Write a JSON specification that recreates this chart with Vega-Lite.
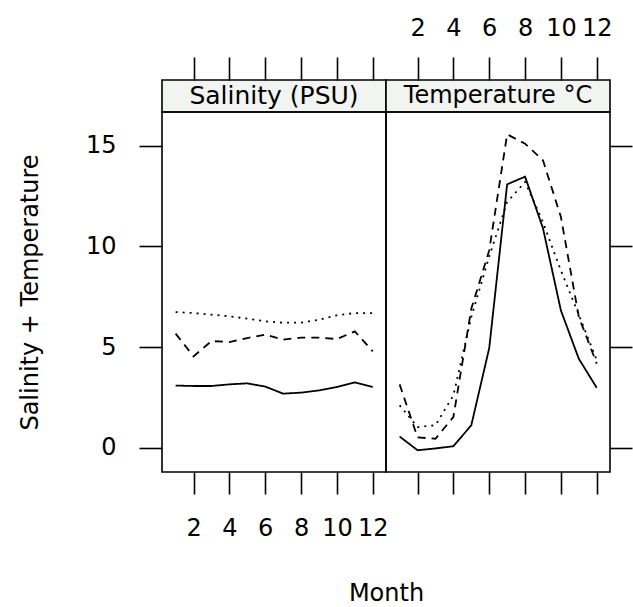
{
  "$schema": "https://vega.github.io/schema/vega-lite/v6.json",
  "background": "white",
  "padding": {"left": 17, "top": 15, "right": 0, "bottom": 0},
  "datasets": {
    "series": [
      {"panel": "Salinity (PSU)", "site": "A", "month": 1, "value": 3.09},
      {"panel": "Salinity (PSU)", "site": "A", "month": 2, "value": 3.07},
      {"panel": "Salinity (PSU)", "site": "A", "month": 3, "value": 3.07},
      {"panel": "Salinity (PSU)", "site": "A", "month": 4, "value": 3.15},
      {"panel": "Salinity (PSU)", "site": "A", "month": 5, "value": 3.2},
      {"panel": "Salinity (PSU)", "site": "A", "month": 6, "value": 3.04},
      {"panel": "Salinity (PSU)", "site": "A", "month": 7, "value": 2.69},
      {"panel": "Salinity (PSU)", "site": "A", "month": 8, "value": 2.74},
      {"panel": "Salinity (PSU)", "site": "A", "month": 9, "value": 2.85},
      {"panel": "Salinity (PSU)", "site": "A", "month": 10, "value": 3.02},
      {"panel": "Salinity (PSU)", "site": "A", "month": 11, "value": 3.25},
      {"panel": "Salinity (PSU)", "site": "A", "month": 12, "value": 3.02},
      {"panel": "Salinity (PSU)", "site": "B", "month": 1, "value": 5.67},
      {"panel": "Salinity (PSU)", "site": "B", "month": 2, "value": 4.54},
      {"panel": "Salinity (PSU)", "site": "B", "month": 3, "value": 5.3},
      {"panel": "Salinity (PSU)", "site": "B", "month": 4, "value": 5.25},
      {"panel": "Salinity (PSU)", "site": "B", "month": 5, "value": 5.45},
      {"panel": "Salinity (PSU)", "site": "B", "month": 6, "value": 5.62},
      {"panel": "Salinity (PSU)", "site": "B", "month": 7, "value": 5.37},
      {"panel": "Salinity (PSU)", "site": "B", "month": 8, "value": 5.47},
      {"panel": "Salinity (PSU)", "site": "B", "month": 9, "value": 5.47},
      {"panel": "Salinity (PSU)", "site": "B", "month": 10, "value": 5.4},
      {"panel": "Salinity (PSU)", "site": "B", "month": 11, "value": 5.78},
      {"panel": "Salinity (PSU)", "site": "B", "month": 12, "value": 4.79},
      {"panel": "Salinity (PSU)", "site": "C", "month": 1, "value": 6.74},
      {"panel": "Salinity (PSU)", "site": "C", "month": 2, "value": 6.69},
      {"panel": "Salinity (PSU)", "site": "C", "month": 3, "value": 6.61},
      {"panel": "Salinity (PSU)", "site": "C", "month": 4, "value": 6.53},
      {"panel": "Salinity (PSU)", "site": "C", "month": 5, "value": 6.41},
      {"panel": "Salinity (PSU)", "site": "C", "month": 6, "value": 6.28},
      {"panel": "Salinity (PSU)", "site": "C", "month": 7, "value": 6.21},
      {"panel": "Salinity (PSU)", "site": "C", "month": 8, "value": 6.21},
      {"panel": "Salinity (PSU)", "site": "C", "month": 9, "value": 6.36},
      {"panel": "Salinity (PSU)", "site": "C", "month": 10, "value": 6.58},
      {"panel": "Salinity (PSU)", "site": "C", "month": 11, "value": 6.69},
      {"panel": "Salinity (PSU)", "site": "C", "month": 12, "value": 6.69},
      {"panel": "Temperature °C", "site": "A", "month": 1, "value": 0.56},
      {"panel": "Temperature °C", "site": "A", "month": 2, "value": -0.12},
      {"panel": "Temperature °C", "site": "A", "month": 3, "value": -0.03},
      {"panel": "Temperature °C", "site": "A", "month": 4, "value": 0.08},
      {"panel": "Temperature °C", "site": "A", "month": 5, "value": 1.12},
      {"panel": "Temperature °C", "site": "A", "month": 6, "value": 4.95},
      {"panel": "Temperature °C", "site": "A", "month": 7, "value": 13.08},
      {"panel": "Temperature °C", "site": "A", "month": 8, "value": 13.46},
      {"panel": "Temperature °C", "site": "A", "month": 9, "value": 10.9},
      {"panel": "Temperature °C", "site": "A", "month": 10, "value": 6.82},
      {"panel": "Temperature °C", "site": "A", "month": 11, "value": 4.42},
      {"panel": "Temperature °C", "site": "A", "month": 12, "value": 2.98},
      {"panel": "Temperature °C", "site": "B", "month": 1, "value": 3.15},
      {"panel": "Temperature °C", "site": "B", "month": 2, "value": 0.52},
      {"panel": "Temperature °C", "site": "B", "month": 3, "value": 0.45},
      {"panel": "Temperature °C", "site": "B", "month": 4, "value": 1.53},
      {"panel": "Temperature °C", "site": "B", "month": 5, "value": 6.9},
      {"panel": "Temperature °C", "site": "B", "month": 6, "value": 9.8},
      {"panel": "Temperature °C", "site": "B", "month": 7, "value": 15.56},
      {"panel": "Temperature °C", "site": "B", "month": 8, "value": 15.1},
      {"panel": "Temperature °C", "site": "B", "month": 9, "value": 14.27},
      {"panel": "Temperature °C", "site": "B", "month": 10, "value": 11.46},
      {"panel": "Temperature °C", "site": "B", "month": 11, "value": 6.5},
      {"panel": "Temperature °C", "site": "B", "month": 12, "value": 4.18},
      {"panel": "Temperature °C", "site": "C", "month": 1, "value": 2.11},
      {"panel": "Temperature °C", "site": "C", "month": 2, "value": 1.03},
      {"panel": "Temperature °C", "site": "C", "month": 3, "value": 1.12},
      {"panel": "Temperature °C", "site": "C", "month": 4, "value": 2.6},
      {"panel": "Temperature °C", "site": "C", "month": 5, "value": 6.5},
      {"panel": "Temperature °C", "site": "C", "month": 6, "value": 9.5},
      {"panel": "Temperature °C", "site": "C", "month": 7, "value": 12.2},
      {"panel": "Temperature °C", "site": "C", "month": 8, "value": 13.2},
      {"panel": "Temperature °C", "site": "C", "month": 9, "value": 11.2},
      {"panel": "Temperature °C", "site": "C", "month": 10, "value": 8.8},
      {"panel": "Temperature °C", "site": "C", "month": 11, "value": 6.6},
      {"panel": "Temperature °C", "site": "C", "month": 12, "value": 4.35}
    ],
    "strips": [
      {"label": "Salinity (PSU)"},
      {"label": "Temperature °C"}
    ]
  },
  "config": {
    "view": {"stroke": "black", "strokeWidth": 1.6},
    "font": "DejaVu Sans",
    "axis": {
      "domain": false,
      "grid": false,
      "tickColor": "black",
      "tickWidth": 1.6,
      "labelColor": "black",
      "labelFont": "DejaVu Sans",
      "labelFontSize": 24,
      "titleFont": "DejaVu Sans",
      "titleFontSize": 24,
      "titleFontWeight": "normal",
      "titleColor": "black"
    }
  },
  "columns": 2,
  "spacing": 0,
  "bounds": "flush",
  "concat": [
    {
      "width": 224,
      "height": 32,
      "view": {"fill": "#f2f4f2"},
      "layer": [
        {
          "data": {"name": "series"},
          "transform": [{"filter": "datum.panel === 'Salinity (PSU)'"}],
          "mark": {"type": "point", "opacity": 0},
          "encoding": {
            "x": {"field": "month", "type": "quantitative",
              "scale": {"domain": [0.24, 12.74], "nice": false, "zero": false},
              "axis": {"orient": "top", "values": [2, 4, 6, 8, 10, 12], "tickSize": 23, "labels": false, "title": null}}
          }
        },
        {
          "data": {"name": "strips"},
          "transform": [{"filter": "datum.label === 'Salinity (PSU)'"}],
          "mark": {"type": "text", "fontSize": 25, "font": "DejaVu Sans", "align": "center", "baseline": "middle", "color": "black"},
          "encoding": {"text": {"field": "label"}}
        }
      ]
    },
    {
      "width": 224,
      "height": 32,
      "view": {"fill": "#f2f4f2"},
      "layer": [
        {
          "data": {"name": "series"},
          "transform": [{"filter": "datum.panel === 'Temperature °C'"}],
          "mark": {"type": "point", "opacity": 0},
          "encoding": {
            "x": {"field": "month", "type": "quantitative",
              "scale": {"domain": [0.24, 12.74], "nice": false, "zero": false},
              "axis": {"orient": "top", "values": [2, 4, 6, 8, 10, 12], "tickSize": 23, "labelPadding": 17, "title": null}}
          }
        },
        {
          "data": {"name": "strips"},
          "transform": [{"filter": "datum.label === 'Temperature °C'"}],
          "mark": {"type": "text", "fontSize": 24, "font": "DejaVu Sans", "align": "center", "baseline": "middle", "color": "black"},
          "encoding": {"text": {"field": "label"}}
        }
      ]
    },
    {
      "width": 224,
      "height": 360,
      "data": {"name": "series"},
      "transform": [{"filter": "datum.panel === 'Salinity (PSU)'"}],
      "mark": {"type": "line", "strokeWidth": 1.8, "color": "black"},
      "encoding": {
        "x": {"field": "month", "type": "quantitative",
          "scale": {"domain": [0.24, 12.74], "nice": false, "zero": false},
          "axis": {"orient": "bottom", "values": [2, 4, 6, 8, 10, 12], "tickSize": 22, "labelPadding": 22, "title": "Month", "titleAnchor": "end", "titleAlign": "center", "titlePadding": 41}},
        "y": {"field": "value", "type": "quantitative",
          "scale": {"domain": [-1.2, 16.67], "nice": false, "zero": false},
          "axis": {"orient": "left", "values": [0, 5, 10, 15], "tickSize": 23, "labelPadding": 23, "title": "Salinity + Temperature", "titlePadding": 43}},
        "strokeDash": {"field": "site", "type": "nominal",
          "scale": {"domain": ["A", "B", "C"], "range": [[1, 0], [8, 6], [2, 5]]}, "legend": null}
      }
    },
    {
      "width": 224,
      "height": 360,
      "data": {"name": "series"},
      "transform": [{"filter": "datum.panel === 'Temperature °C'"}],
      "mark": {"type": "line", "strokeWidth": 1.8, "color": "black"},
      "encoding": {
        "x": {"field": "month", "type": "quantitative",
          "scale": {"domain": [0.24, 12.74], "nice": false, "zero": false},
          "axis": {"orient": "bottom", "values": [2, 4, 6, 8, 10, 12], "tickSize": 22, "labels": false, "title": null}},
        "y": {"field": "value", "type": "quantitative",
          "scale": {"domain": [-1.2, 16.67], "nice": false, "zero": false},
          "axis": {"orient": "right", "values": [0, 5, 10, 15], "tickSize": 22, "labels": false, "title": null}},
        "strokeDash": {"field": "site", "type": "nominal",
          "scale": {"domain": ["A", "B", "C"], "range": [[1, 0], [8, 6], [2, 5]]}, "legend": null}
      }
    }
  ]
}
